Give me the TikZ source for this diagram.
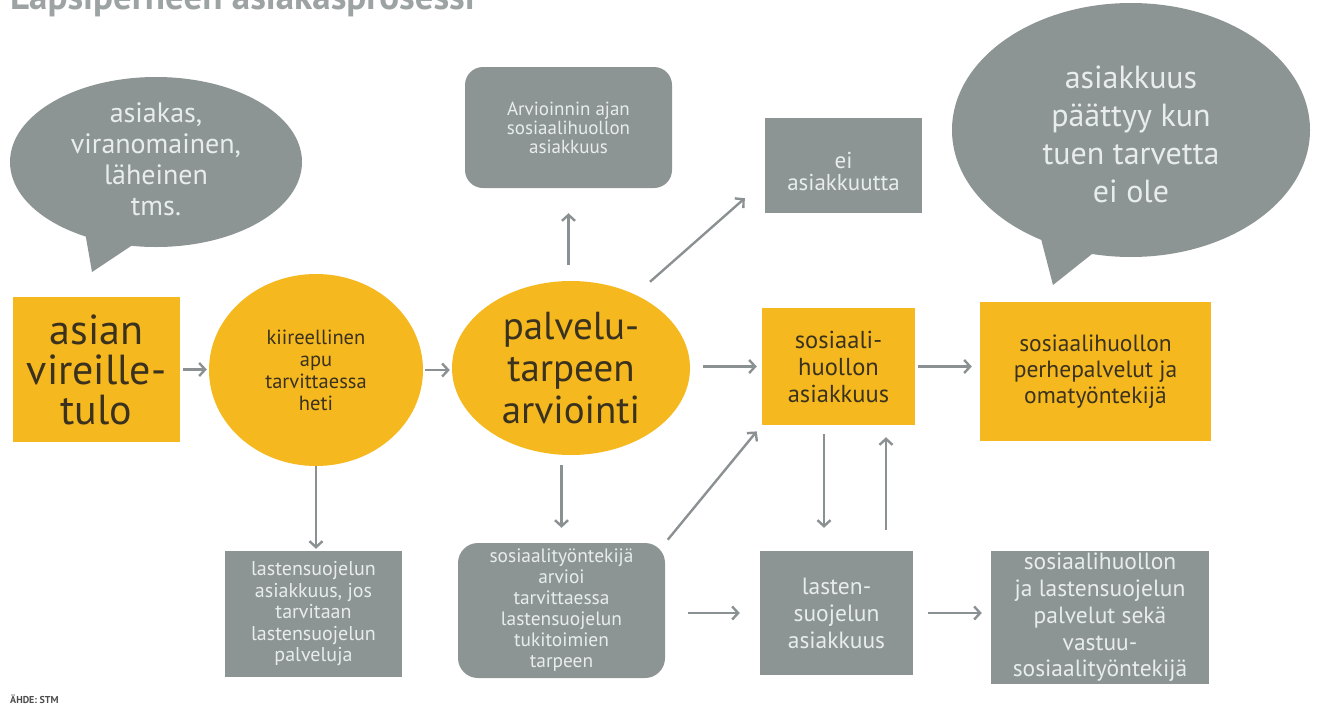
\documentclass[tikz,border=0pt]{standalone}
\usepackage{fontspec}
\setmainfont{PT Sans}
\usetikzlibrary{shapes.geometric,arrows.meta,calc}
\definecolor{ylw}{HTML}{F5B81F}
\definecolor{gry}{HTML}{8D9494}
\definecolor{arrg}{HTML}{8B9193}
\definecolor{ltxt}{HTML}{E8ECEC}
\definecolor{dtxt}{HTML}{3A321E}
\definecolor{ttl}{HTML}{9DA3A3}
\newcommand{\fsz}[2]{\fontsize{#1}{#2}\selectfont}
\begin{document}
\begin{tikzpicture}[x=1pt,y=-1pt,
 ybox/.style={rectangle, fill=ylw, text=dtxt, align=center, inner sep=0pt},
 gbox/.style={rectangle, fill=gry, text=ltxt, align=center, inner sep=0pt},
 gbub/.style={ellipse, fill=gry, text=ltxt, align=center, inner sep=0pt},
 yell/.style={ellipse, fill=ylw, text=dtxt, align=center, inner sep=0pt},
 arr/.style={draw=arrg, line width=2.4pt, -{Straight Barb[length=6pt,width=13pt]}},
]
\useasboundingbox (0,0) rectangle (1320,707);
\begin{scope}
\clip (0,0) rectangle (1320,707);
\node[anchor=base west, text=ttl, font=\bfseries\fsz{37}{40}, inner sep=0pt] (title) at (10,9) {Lapsiperheen asiakasprosessi};
\end{scope}

% speech bubbles
\node[gbub, minimum width=292pt, minimum height=170pt] (bl) at (156,162) {};
\fill[gry] ($(bl.center)+(-71,70)$) -- ($(bl.center)+(-64,110)$) -- ($(bl.center)+(-19,80)$) -- cycle;
\node[text=ltxt, align=center, font=\fsz{28}{31}] (blt) at ($(bl.center)+(0,-3)$) {asiakas,\\viranomainen,\\läheinen\\tms.};

\node[gbub, minimum width=358pt, minimum height=254pt] (br) at (1131,130) {};
\fill[gry] ($(br.center)+(-91,105)$) -- ($(br.center)+(-78,155)$) -- ($(br.center)+(-34,120)$) -- cycle;
\node[text=ltxt, align=center, font=\fsz{32}{38}] (brt) at ($(br.center)+(0,4)$) {asiakkuus\\päättyy kun\\tuen tarvetta\\ei ole};

% main row
\node[ybox, minimum width=167pt, minimum height=145pt, font=\fsz{42}{40}] (asian) at (96.5,369.5) {asian\\vireille-\\tulo};
\node[yell, minimum width=214pt, minimum height=192pt, font=\fsz{20.5}{22}] (kiire) at (316,370) {kiireellinen\\apu\\tarvittaessa\\heti};
\node[yell, minimum width=238pt, minimum height=174pt, font=\fsz{39}{42}] (palv) at (571,368) {palvelu-\\tarpeen\\arviointi};
\node[ybox, minimum width=153pt, minimum height=117pt, font=\fsz{24.5}{27}] (sos) at (838.5,366.5) {sosiaali-\\huollon\\asiakkuus};
\node[ybox, minimum width=231pt, minimum height=139pt, font=\fsz{23.5}{26}] (perhe) at (1095.5,371.5) {sosiaalihuollon\\perhepalvelut ja\\omatyöntekijä};

% top boxes
\node[gbox, rounded corners=18pt, minimum width=207pt, minimum height=121pt, font=\fsz{19}{19}] (arv) at (568.5,127.5) {Arvioinnin ajan\\sosiaalihuollon\\asiakkuus};
\node[gbox, minimum width=157pt, minimum height=95pt] (ei) at (843.5,165.5) {};
\node[text=ltxt, align=center, font=\fsz{23}{22}] (eit) at ($(ei.center)+(0,6)$) {ei\\asiakkuutta};

% bottom boxes
\node[gbox, minimum width=177pt, minimum height=126pt, font=\fsz{20}{21.5}] (lsj) at (313.5,614) {lastensuojelun\\asiakkuus, jos\\tarvitaan\\lastensuojelun\\palveluja};
\node[gbox, rounded corners=20pt, minimum width=207pt, minimum height=135pt, font=\fsz{19.4}{21}] (soc) at (561.5,610.5) {sosiaalityöntekijä\\arvioi\\tarvittaessa\\lastensuojelun\\tukitoimien\\tarpeen};
\node[gbox, minimum width=153pt, minimum height=124pt, font=\fsz{23.5}{27}] (lasten) at (836.5,613) {lasten-\\suojelun\\asiakkuus};
\node[gbox, minimum width=218pt, minimum height=133pt, font=\fsz{23.5}{26.7}] (vastuu) at (1100,617.5) {sosiaalihuollon\\ja lastensuojelun\\palvelut sekä\\vastuu-\\sosiaalityöntekijä};

% arrows
\draw[arr, shorten <=3pt, shorten >=2pt] (asian.east) -- (asian.east -| kiire.west);
\draw[arr, shorten <=2pt, shorten >=2pt] (kiire.east) -- (kiire.east -| palv.west);
\draw[arr, shorten <=16pt, shorten >=25pt] (arv.south |- palv.north) -- (arv.south);
\draw[arr] ($(palv.north)+(79,1)$) -- ($(ei.south west)+(-20,-15)$);
\draw[arr, shorten <=13pt, shorten >=5pt] (palv.east |- sos.west) -- (sos.west);
\draw[arr, shorten <=3pt, shorten >=8pt] (sos.east) -- (sos.east -| perhe.west);
\draw[arr, shorten >=2pt] (kiire.south) -- (kiire.south |- lsj.north);
\draw[arr, shorten <=10pt, shorten >=15pt] (palv.south -| soc.north) -- (soc.north);
\draw[arr, shorten <=4pt, shorten >=8pt] (soc.north east) -- (sos.south west);
\draw[arr, shorten <=9pt, shorten >=23pt] ($(sos.south)+(-14.5,0)$) -- ($(lasten.north)+(-12.5,0)$);
\draw[arr, shorten <=21pt, shorten >=12pt] ($(lasten.north)+(49.5,0)$) -- ($(sos.south)+(47.5,0)$);
\draw[arr, shorten <=23pt, shorten >=20pt] (soc.east |- lasten.west) -- (lasten.west);
\draw[arr, shorten <=15pt, shorten >=9pt] (lasten.east) -- (lasten.east -| vastuu.west);

\node[anchor=base west, inner sep=0pt, text=black!70, font=\bfseries\fsz{10}{12}] (src) at (10,703) {ÄHDE: STM};
\end{tikzpicture}
\end{document}
